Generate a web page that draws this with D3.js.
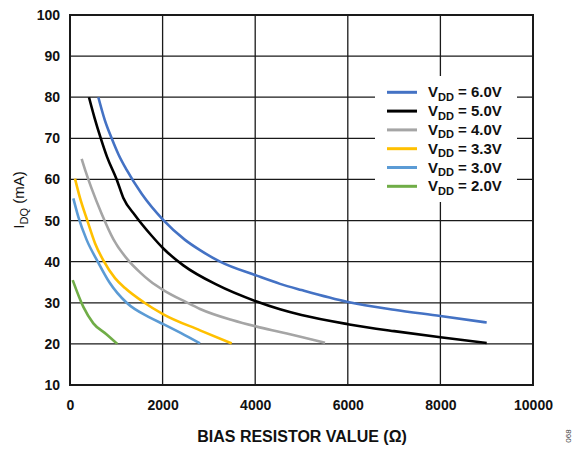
<!DOCTYPE html>
<html><head><meta charset="utf-8">
<script src="https://cdn.jsdelivr.net/npm/d3@7"></script>
<style>body{margin:0;background:#fff}svg{display:block}text{font-family:"Liberation Sans",Arial,sans-serif}</style>
</head><body><svg id="c" width="572" height="451"></svg>
<script>
const xTicks = [0, 2000, 4000, 6000, 8000, 10000];
const yTicks = [10, 20, 30, 40, 50, 60, 70, 80, 90, 100];
const seriesNames = ["6.0V", "5.0V", "4.0V", "3.3V", "3.0V", "2.0V"];
const seriesColors = ["#4472C4", "#000000", "#A5A5A5", "#FFC000", "#5B9BD5", "#70AD47"];

const x60 = [612, 750, 900, 1050, 1224, 1548, 2016, 2484, 2808, 3240, 4032, 4536, 5000, 6000, 7000, 8000, 9000];
const y60 = [80, 74.5, 70, 66, 62.3, 56.5, 50.1, 45.3, 42.8, 40, 36.6, 34.6, 33.1, 30.2, 28.3, 26.8, 25.2];
const x50 = [410, 530, 665, 800, 1008, 1152, 1404, 1764, 2016, 2448, 3168, 4032, 4536, 5000, 6000, 7000, 8000, 9000];
const y50 = [80, 75, 70, 65.5, 60, 55.5, 51.3, 46.3, 43.2, 39.1, 34.4, 30.3, 28.4, 27.0, 24.8, 23.1, 21.6, 20.2];
const x40 = [252, 330, 460, 690, 936, 1260, 1512, 1728, 2016, 2500, 2808, 3500, 4032, 4536, 5000, 5508];
const y40 = [65, 62.2, 58, 51.5, 45.5, 40.3, 37.4, 35.3, 33.1, 30.2, 28.5, 25.8, 24.2, 22.9, 21.7, 20.3];
const x33 = [108, 216, 374, 540, 720, 972, 1188, 1584, 2016, 2808, 3492];
const y33 = [60.2, 55.5, 50, 44.5, 40.3, 36, 33.6, 30.2, 27.2, 23.3, 20.1];
const x30 = [72, 180, 360, 600, 850, 1224, 1728, 2016, 2400, 2808];
const y30 = [55.4, 50.9, 45.3, 40, 35, 30, 26.4, 24.8, 22.6, 20.1];
const x20 = [58, 288, 504, 792, 1022];
const y20 = [35.5, 29, 25, 22.3, 20];

const seriesX = [x60, x50, x40, x33, x30, x20];
const seriesY = [y60, y50, y40, y33, y30, y20];

const svg = d3.select("#c");
const L = 70, R = 533, T = 15, B = 385;
const x = d3.scaleLinear().domain([0, 10000]).range([L, R]);
const y = d3.scaleLinear().domain([10, 100]).range([B, T]);

// gridlines
const grid = svg.append("g").attr("stroke", "#1a1a1a").attr("stroke-width", 1.3);
grid.selectAll("line.h").data(yTicks).join("line")
  .attr("x1", L).attr("x2", R).attr("y1", d => y(d)).attr("y2", d => y(d));
grid.selectAll("line.v").data(xTicks).join("line")
  .attr("y1", T).attr("y2", B).attr("x1", d => x(d)).attr("x2", d => x(d));

// curves
const line = d3.line().x(d => x(d[0])).y(d => y(d[1])).curve(d3.curveMonotoneX);
seriesX.forEach((xs, i) => {
  const pts = xs.map((v, j) => [v, seriesY[i][j]]);
  svg.append("path").attr("d", line(pts)).attr("fill", "none")
    .attr("stroke", seriesColors[i]).attr("stroke-width", 2.6).attr("stroke-linejoin", "round");
});

// legend
svg.append("rect").attr("x", 375).attr("y", 76).attr("width", 142).attr("height", 126).attr("fill", "#fff");
const lg = svg.append("g");
seriesNames.forEach((n, i) => {
  const cy = 92.3 + i * 18.8;
  lg.append("line").attr("x1", 387).attr("x2", 417).attr("y1", cy).attr("y2", cy)
    .attr("stroke", seriesColors[i]).attr("stroke-width", 3);
  const t = lg.append("text").attr("x", 428).attr("y", cy + 5).attr("font-size", 15).attr("font-weight", "bold").attr("fill", "#111");
  t.append("tspan").text("V");
  t.append("tspan").attr("font-size", 11).attr("dy", 3.5).text("DD");
  t.append("tspan").attr("dy", -3.5).text(" = " + n);
});

// frame
svg.append("rect").attr("x", L).attr("y", T).attr("width", R - L).attr("height", B - T)
  .attr("fill", "none").attr("stroke", "#1a1a1a").attr("stroke-width", 2);

// axes
const yAxis = d3.axisLeft(y).tickValues(yTicks).tickSize(0).tickPadding(10);
const gy = svg.append("g").attr("transform", `translate(${L},0)`).call(yAxis);
const xAxis = d3.axisBottom(x).tickValues(xTicks).tickFormat(d3.format("d")).tickSize(0).tickPadding(15);
const gx = svg.append("g").attr("transform", `translate(0,${B})`).call(xAxis);
[gx, gy].forEach(g => {
  g.select(".domain").remove();
  g.selectAll("text").attr("font-size", 14).attr("font-weight", "bold").attr("fill", "#111")
    .attr("font-family", '"Liberation Sans",Arial,sans-serif');
});

// axis titles
svg.append("text").attr("x", 302).attr("y", 442).attr("text-anchor", "middle")
  .attr("font-size", 16).attr("font-weight", "bold").attr("fill", "#111")
  .text("BIAS RESISTOR VALUE (Ω)");
const yl = svg.append("text").attr("transform", "translate(24,200) rotate(-90)")
  .attr("text-anchor", "middle").attr("font-size", 15).attr("fill", "#111");
yl.append("tspan").text("I");
yl.append("tspan").attr("font-size", 11).attr("dy", 4).text("DQ");
yl.append("tspan").attr("dy", -4).text(" (mA)");

svg.append("text").attr("transform", "translate(571,436) rotate(-90)").attr("text-anchor", "middle")
  .attr("font-size", 8).attr("fill", "#444").text("068");
</script></body></html>
